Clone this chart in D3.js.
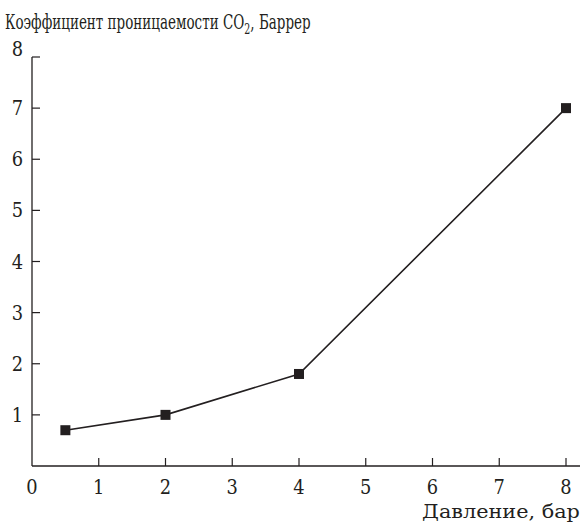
<!DOCTYPE html>
<html>
<head>
<meta charset="utf-8">
<script src="https://cdn.jsdelivr.net/npm/d3@7"></script>
<style>
  body { margin: 0; background: #fff; }
</style>
</head>
<body>
<svg id="chart" width="584" height="525"></svg>
<script>
const pressure = [0.5, 2, 4, 8];
const permeability = [0.7, 1.0, 1.8, 7.0];
const xTicks = [0, 1, 2, 3, 4, 5, 6, 7, 8];
const yTicks = [1, 2, 3, 4, 5, 6, 7, 8];

const ink = "#231f20";
const serif = "'DejaVu Serif', serif";

const svg = d3.select("#chart")
  .attr("font-family", serif)
  .attr("fill", ink);

const x = d3.scaleLinear().domain([0, 8]).range([32, 566]);
const y = d3.scaleLinear().domain([0, 8]).range([466, 57]);

// squeeze a text group horizontally to the width it has in the print
function fitWidth(g, width) {
  const box = g.node().getBBox();
  const k = width / box.width;
  g.attr("transform", g.attr("transform") + ` scale(${k},1)`);
}

// axes lines
svg.append("line")
  .attr("x1", x(0)).attr("x2", 580)
  .attr("y1", y(0)).attr("y2", y(0))
  .attr("stroke", ink).attr("stroke-width", 1.3);
svg.append("line")
  .attr("x1", x(0)).attr("x2", x(0))
  .attr("y1", y(0)).attr("y2", y(8))
  .attr("stroke", ink).attr("stroke-width", 1.3);

// x ticks (inward)
svg.selectAll("line.xt")
  .data(xTicks.filter(d => d > 0))
  .enter().append("line")
  .attr("class", "xt")
  .attr("x1", d => x(d)).attr("x2", d => x(d))
  .attr("y1", y(0)).attr("y2", y(0) - 8)
  .attr("stroke", ink).attr("stroke-width", 1.2);

svg.selectAll("text.xl")
  .data(xTicks)
  .enter().append("text")
  .attr("class", "xl")
  .attr("transform", d => `translate(${x(d)},${y(0) + 28}) scale(0.85,1)`)
  .attr("text-anchor", "middle")
  .attr("font-size", 21)
  .text(d => d);

// y ticks (inward)
svg.selectAll("line.yt")
  .data(yTicks)
  .enter().append("line")
  .attr("class", "yt")
  .attr("x1", x(0)).attr("x2", x(0) + 8)
  .attr("y1", d => y(d)).attr("y2", d => y(d))
  .attr("stroke", ink).attr("stroke-width", 1.2);

svg.selectAll("text.yl")
  .data(yTicks)
  .enter().append("text")
  .attr("class", "yl")
  .attr("transform", d => `translate(23,${y(d) + 7 - (d === 8 ? 8 : 0)}) scale(0.85,1)`)
  .attr("text-anchor", "end")
  .attr("font-size", 21)
  .text(d => d);

// titles
const titleG = svg.append("g").attr("transform", "translate(5,29)");
const title = titleG.append("text").attr("font-size", 20);
title.append("tspan").text("Коэффициент проницаемости CO");
title.append("tspan").attr("dy", 5).attr("font-size", 14).text("2");
title.append("tspan").attr("dy", -5).text(", Баррер");
fitWidth(titleG, 306);

const xLabelG = svg.append("g").attr("transform", "translate(422,518)");
xLabelG.append("text")
  .attr("font-size", 19)
  .text("Давление, бар");
fitWidth(xLabelG, 158);

// data line and markers
const pts = pressure.map((p, i) => [p, permeability[i]]);
svg.append("path")
  .datum(pts)
  .attr("fill", "none")
  .attr("stroke", ink)
  .attr("stroke-width", 1.6)
  .attr("d", d3.line().x(d => x(d[0])).y(d => y(d[1])));

svg.selectAll("rect.pt")
  .data(pts)
  .enter().append("rect")
  .attr("class", "pt")
  .attr("x", d => x(d[0]) - 5)
  .attr("y", d => y(d[1]) - 5)
  .attr("width", 10).attr("height", 10)
  .attr("fill", ink);
</script>
</body>
</html>
